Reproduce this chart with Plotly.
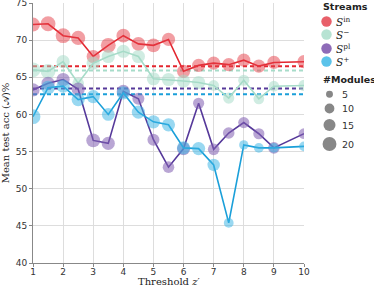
import plotly.graph_objects as go

thresholds = [1, 1.5, 2, 2.5, 3, 3.5, 4, 4.5, 5, 5.5, 6, 6.5, 7, 7.5, 8, 8.5, 9, 10]

s_in = [72.1, 72.2, 70.6, 70.3, 67.8, 69.3, 70.6, 69.5, 69.3, 70.1, 65.8, 66.6, 66.9, 66.7, 67.3, 66.5, 67.0, 67.1]
s_minus = [66.0, 65.8, 67.1, 64.2, 66.9, 67.8, 68.5, 67.8, 64.8, 64.7, 64.5, 64.3, 63.9, 62.2, 64.6, 62.1, 63.8, 63.9]
s_pl = [63.3, 64.2, 64.7, 63.4, 56.5, 56.1, 63.1, 62.1, 56.6, 52.9, 55.4, 61.5, 55.3, 57.5, 58.9, 57.4, 55.5, 57.4]
s_plus = [59.7, 63.6, 63.8, 62.0, 62.4, 60.0, 62.9, 60.3, 59.0, 58.6, 55.5, 55.4, 53.2, 45.4, 55.9, 55.5, 55.5, 55.7]

mod_in = [20, 23, 23, 21, 18, 23, 20, 20, 20, 18, 18, 18, 18, 18, 18, 18, 18, 18]
mod_minus = [23, 23, 18, 14, 18, 18, 18, 18, 18, 18, 18, 18, 12, 13, 13, 12, 12, 13]
mod_pl = [18, 18, 18, 18, 20, 18, 18, 15, 15, 14, 18, 13, 14, 14, 13, 13, 14, 12]
mod_plus = [23, 20, 18, 18, 18, 17, 18, 18, 18, 18, 18, 18, 16, 10, 9, 10, 10, 10]

means = [66.5, 65.9, 63.5, 62.7]
stream_names = ["<i>S</i><sup>in</sup>", "<i>S</i><sup>\u2212</sup>", "<i>S</i><sup>pl</sup>", "<i>S</i><sup>+</sup>"]
legend_sizes = [5, 10, 15, 20]
x_title = "Threshold <i>z</i>\u2032"
y_title = "Mean test acc (\U0001D49C)%"

line_colors = ["#e3262f", "#a7dcc9", "#56399a", "#1a9fd9"]
marker_colors = ["rgba(229,64,74,0.72)", "rgba(165,219,200,0.75)", "rgba(130,96,178,0.8)", "rgba(60,180,228,0.75)"]
legend_colors = ["#e8606a", "#b7e3d3", "#8e6bb8", "#5bc3ea"]

W, H = 374, 287
ML, MR, MT, MB = 33, 70, 3, 24
PW, PH = W - ML - MR, H - MT - MB


def diam(m):
    return 3.1 * m ** 0.5


def px_x(px):
    return (px - ML) / PW


def px_y(py):
    return (H - MB - py) / PH


fig = go.Figure()
series = [s_in, s_minus, s_pl, s_plus]
mods = [mod_in, mod_minus, mod_pl, mod_plus]

for i in range(4):
    fig.add_trace(go.Scatter(
        x=[thresholds[0], thresholds[-1]], y=[means[i], means[i]], mode="lines",
        line=dict(color=line_colors[i], width=2, dash="4px,3px"), showlegend=False, hoverinfo="skip"))

for i in range(4):
    fig.add_trace(go.Scatter(
        x=thresholds, y=series[i], mode="lines+markers",
        line=dict(color=line_colors[i], width=1.6),
        marker=dict(size=[diam(m) for m in mods[i]], color=marker_colors[i], line=dict(width=0)),
        showlegend=False))

# manual compact legend
shapes = []
annotations = []
annotations.append(dict(text="<b>Streams</b>", x=px_x(321), y=px_y(7), xref="paper", yref="paper",
                        xanchor="left", yanchor="middle", showarrow=False,
                        font=dict(family="DejaVu Sans", size=9.5, color="#222")))
stream_y = [21.5, 34.5, 48.5, 61.5]
for i in range(4):
    r = 5.2
    shapes.append(dict(type="circle", xref="paper", yref="paper", xsizemode="pixel", ysizemode="pixel",
                       xanchor=px_x(326.5), yanchor=px_y(stream_y[i]), x0=-r, x1=r, y0=-r, y1=r,
                       fillcolor=legend_colors[i], line=dict(width=0)))
    annotations.append(dict(text=stream_names[i], x=px_x(334), y=px_y(stream_y[i]), xref="paper", yref="paper",
                            xanchor="left", yanchor="middle", showarrow=False,
                            font=dict(family="DejaVu Serif", size=10.5, color="#222")))
annotations.append(dict(text="<b>#Modules</b>", x=px_x(321), y=px_y(80), xref="paper", yref="paper",
                        xanchor="left", yanchor="middle", showarrow=False,
                        font=dict(family="DejaVu Sans", size=9.5, color="#222")))
size_y = [94.3, 108.5, 125, 144]
for j, s in enumerate(legend_sizes):
    r = diam(s) / 2
    shapes.append(dict(type="circle", xref="paper", yref="paper", xsizemode="pixel", ysizemode="pixel",
                       xanchor=px_x(329.5), yanchor=px_y(size_y[j]), x0=-r, x1=r, y0=-r, y1=r,
                       fillcolor="#878787", line=dict(width=0)))
    annotations.append(dict(text=str(s), x=px_x(340), y=px_y(size_y[j]), xref="paper", yref="paper",
                            xanchor="left", yanchor="middle", showarrow=False,
                            font=dict(family="DejaVu Sans", size=9.5, color="#333")))

# x-axis title placed just below the tick labels
annotations.append(dict(text=x_title, x=0.5, y=px_y(281), xref="paper", yref="paper",
                        xanchor="center", yanchor="middle", showarrow=False,
                        font=dict(family="DejaVu Serif", size=10, color="#222")))

axis_common = dict(showgrid=True, gridcolor="#dddddd", gridwidth=1, zeroline=False,
                   showline=True, linecolor="#888888", linewidth=1,
                   ticks="outside", ticklen=3, tickcolor="#888888",
                   ticklabeloverflow="allow",
                   tickfont=dict(family="DejaVu Sans", size=9, color="#333"))

fig.update_layout(
    width=W, height=H,
    margin=dict(l=ML, r=MR, t=MT, b=MB, autoexpand=False),
    plot_bgcolor="white", paper_bgcolor="white",
    showlegend=False,
    shapes=shapes, annotations=annotations,
    xaxis=dict(range=[1, 10], tickvals=list(range(1, 11)), automargin=False,
               ticklabelstandoff=-3,
               **axis_common),
    yaxis=dict(range=[40, 75], tickvals=[40, 45, 50, 55, 60, 65, 70, 75], automargin=False,
               title=dict(text=y_title, font=dict(family="DejaVu Serif", size=10, color="#222"), standoff=4),
               **axis_common),
)

fig.write_html("out.html", config={"displayModeBar": False},
               post_script="document.body.style.margin='0';document.body.style.overflow='hidden';")
